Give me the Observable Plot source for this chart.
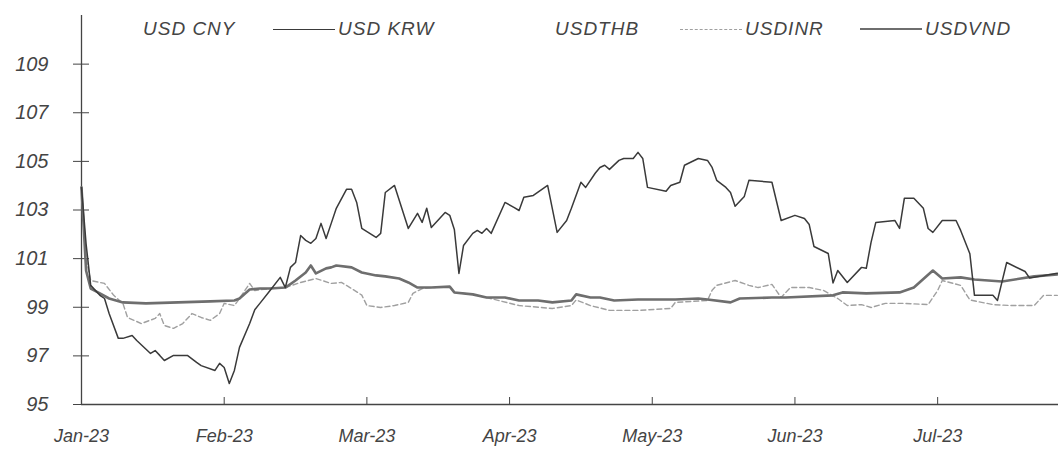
<!DOCTYPE html>
<html>
<head>
<meta charset="utf-8">
<script src="https://cdn.jsdelivr.net/npm/d3@7"></script>
<script src="https://cdn.jsdelivr.net/npm/@observablehq/plot@0.6"></script>
<style>
  html, body { margin: 0; padding: 0; background: #fff; }
  #wrap { position: relative; width: 1058px; height: 453px; overflow: hidden; }
  #legend { position: absolute; top: 0; left: 0; width: 1058px; height: 40px; font-family: "Liberation Sans Narrow", "Liberation Sans", Arial, sans-serif; font-style: italic; font-size: 19px; color: #444; letter-spacing: 1px; }
  #legend .item { position: absolute; top: 18px; display: flex; align-items: center; height: 22px; white-space: nowrap; }
  #legend .sw { display: inline-block; width: 62px; height: 0; margin-right: 3px; }
  #chart { position: absolute; top: 0; left: 0; }
  #chart svg text { font-style: italic; }
</style>
</head>
<body>
<div id="wrap">
  <div id="chart"></div>
  <div id="legend"></div>
</div>
<script>
// ---- data ----
const seriesNames = ["USD CNY", "USD KRW", "USDTHB", "USDINR", "USDVND"];
const monthLabels = ["Jan-23", "Feb-23", "Mar-23", "Apr-23", "May-23", "Jun-23", "Jul-23"];
const yTicks = [95, 97, 99, 101, 103, 105, 107, 109];

const krwDates = ["2023-01-01","2023-01-02","2023-01-03","2023-01-05","2023-01-06","2023-01-07","2023-01-09","2023-01-10","2023-01-12","2023-01-13","2023-01-16","2023-01-17","2023-01-18","2023-01-19","2023-01-21","2023-01-24","2023-01-26","2023-01-27","2023-01-30","2023-01-31",
"2023-02-01","2023-02-02","2023-02-03","2023-02-04","2023-02-06","2023-02-07","2023-02-08","2023-02-10","2023-02-12","2023-02-13","2023-02-14","2023-02-15","2023-02-16","2023-02-17","2023-02-18","2023-02-19","2023-02-20","2023-02-21","2023-02-22","2023-02-23","2023-02-25","2023-02-26","2023-02-27","2023-02-28",
"2023-03-03","2023-03-04","2023-03-05","2023-03-07","2023-03-10","2023-03-12","2023-03-13","2023-03-14","2023-03-15","2023-03-18","2023-03-19","2023-03-20","2023-03-21","2023-03-22","2023-03-24","2023-03-25","2023-03-26","2023-03-27","2023-03-28","2023-03-31",
"2023-04-02","2023-04-03","2023-04-04","2023-04-06","2023-04-09","2023-04-11","2023-04-13","2023-04-14","2023-04-16","2023-04-17","2023-04-19","2023-04-20","2023-04-21","2023-04-22","2023-04-24","2023-04-25","2023-04-27","2023-04-28","2023-04-29","2023-04-30",
"2023-05-04","2023-05-05","2023-05-07","2023-05-08","2023-05-11","2023-05-13","2023-05-14","2023-05-15","2023-05-17","2023-05-18","2023-05-19","2023-05-21","2023-05-22","2023-05-27","2023-05-29",
"2023-06-01","2023-06-03","2023-06-04","2023-06-05","2023-06-08","2023-06-09","2023-06-10","2023-06-12","2023-06-15","2023-06-16","2023-06-17","2023-06-18","2023-06-22","2023-06-23","2023-06-24","2023-06-26","2023-06-28","2023-06-29","2023-06-30",
"2023-07-02","2023-07-05","2023-07-06","2023-07-08","2023-07-09","2023-07-13","2023-07-14","2023-07-16","2023-07-20","2023-07-21","2023-07-27"];
const krwValues = [103.93,101.6,99.90,99.49,99.36,98.74,97.72,97.72,97.84,97.63,97.10,97.22,97.02,96.81,97.02,97.02,96.73,96.60,96.40,96.69,
96.52,95.86,96.40,97.35,98.33,98.90,99.16,99.69,100.23,99.81,100.64,100.84,101.95,101.75,101.63,101.83,102.45,101.83,102.45,103.07,103.85,103.85,103.31,102.24,
101.87,102.04,103.72,104.01,102.24,102.86,102.49,103.07,102.28,102.90,102.78,102.20,100.39,101.54,102.04,102.16,102.04,102.24,102.04,103.31,
103.10,102.98,103.52,103.60,104.01,102.08,102.57,103.07,104.14,103.93,104.51,104.75,104.84,104.67,105.04,105.12,105.12,105.37,105.12,103.93,
103.77,104.01,104.14,104.84,105.12,105.04,104.75,104.22,103.93,103.72,103.15,103.56,104.22,104.14,102.57,
102.78,102.65,102.40,101.50,101.21,100.00,100.51,100.02,100.64,100.60,101.67,102.49,102.57,102.24,103.48,103.48,103.07,102.24,102.08,
102.57,102.57,102.16,101.20,99.49,99.49,99.28,100.84,100.47,100.20,100.40];

const inrDates = ["2023-01-01","2023-01-02","2023-01-03","2023-01-06","2023-01-08","2023-01-10","2023-01-11","2023-01-14","2023-01-17","2023-01-18","2023-01-19","2023-01-21","2023-01-23","2023-01-25","2023-01-27","2023-01-29","2023-01-31",
"2023-02-01","2023-02-03","2023-02-04","2023-02-06","2023-02-07","2023-02-10","2023-02-13","2023-02-16","2023-02-19","2023-02-22","2023-02-24","2023-02-26","2023-02-28",
"2023-03-01","2023-03-04","2023-03-07","2023-03-10","2023-03-11","2023-03-13","2023-03-15","2023-03-19","2023-03-20","2023-03-24","2023-03-27",
"2023-04-03","2023-04-10","2023-04-14","2023-04-15","2023-04-18","2023-04-22","2023-04-28",
"2023-05-05","2023-05-06","2023-05-13","2023-05-14","2023-05-15","2023-05-19","2023-05-22","2023-05-24","2023-05-27","2023-05-29","2023-05-31",
"2023-06-04","2023-06-07","2023-06-10","2023-06-12","2023-06-15","2023-06-17","2023-06-20","2023-06-24","2023-06-29",
"2023-07-01","2023-07-02","2023-07-06","2023-07-08","2023-07-13","2023-07-17","2023-07-22","2023-07-24","2023-07-27"];
const inrValues = [103.93,101.0,100.10,99.98,99.49,99.16,98.58,98.33,98.54,98.74,98.25,98.13,98.33,98.74,98.58,98.46,98.74,
99.16,99.07,99.36,99.98,99.69,99.77,99.81,100.02,100.18,99.98,100.02,99.77,99.50,
99.07,98.99,99.07,99.20,99.57,99.77,99.81,99.85,99.61,99.53,99.40,
99.07,98.95,99.07,99.30,99.07,98.87,98.87,
98.95,99.20,99.28,99.70,99.90,100.10,99.90,99.81,99.94,99.40,99.81,
99.81,99.69,99.36,99.07,99.11,98.99,99.16,99.16,99.11,
99.69,100.10,99.90,99.30,99.11,99.07,99.07,99.49,99.49];

const vndDates = ["2023-01-01","2023-01-02","2023-01-03","2023-01-05","2023-01-07","2023-01-10","2023-01-15","2023-01-22","2023-01-29",
"2023-02-03","2023-02-04","2023-02-06","2023-02-08","2023-02-10","2023-02-13","2023-02-15","2023-02-17","2023-02-18","2023-02-19","2023-02-21","2023-02-22","2023-02-23","2023-02-26","2023-02-28",
"2023-03-03","2023-03-05","2023-03-08","2023-03-10","2023-03-12","2023-03-15","2023-03-19","2023-03-20","2023-03-24","2023-03-27","2023-03-31",
"2023-04-03","2023-04-07","2023-04-10","2023-04-14","2023-04-15","2023-04-18","2023-04-20","2023-04-23","2023-04-28",
"2023-05-06","2023-05-11","2023-05-13","2023-05-18","2023-05-20","2023-05-27","2023-05-30",
"2023-06-09","2023-06-11","2023-06-16","2023-06-23","2023-06-26","2023-06-30",
"2023-07-02","2023-07-06","2023-07-09","2023-07-15","2023-07-22","2023-07-27"];
const vndValues = [103.93,100.5,99.77,99.57,99.36,99.20,99.16,99.20,99.24,
99.28,99.36,99.73,99.77,99.77,99.81,100.10,100.43,100.72,100.39,100.60,100.64,100.72,100.64,100.43,
100.31,100.27,100.18,100.02,99.81,99.81,99.85,99.61,99.53,99.40,99.40,
99.28,99.28,99.20,99.28,99.53,99.40,99.40,99.28,99.32,
99.32,99.36,99.32,99.20,99.36,99.40,99.40,
99.49,99.61,99.57,99.61,99.81,100.51,
100.18,100.23,100.14,100.06,100.27,100.35];

// ---- helpers ----
// position along the axis in "months" (each month occupies the same width, as in the reference)
function monthPos(s) {
  const d = new Date(s + "T00:00:00Z");
  const m = d.getUTCMonth() + 12 * (d.getUTCFullYear() - 2023);
  const dim = new Date(Date.UTC(d.getUTCFullYear(), d.getUTCMonth() + 1, 0)).getUTCDate();
  return m + (d.getUTCDate() - 1) / dim;
}
function toRows(dates, values, name) {
  return dates.map((d, i) => ({date: d, pos: monthPos(d), value: values[i], series: name}));
}
const krw = toRows(krwDates, krwValues, "USD KRW");
const inr = toRows(inrDates, inrValues, "USDINR");
const vnd = toRows(vndDates, vndValues, "USDVND");

const styles = {
  "USD KRW": {stroke: "#3a3a3a", strokeWidth: 1.5, dash: null},
  "USDINR": {stroke: "#a0a0a0", strokeWidth: 1.4, dash: "5,3"},
  "USDVND": {stroke: "#6e6e6e", strokeWidth: 2.6, dash: null}
};
const axisColor = "#444";
const font = '"Liberation Sans", Arial, sans-serif';

const chart = Plot.plot({
  width: 1058,
  height: 453,
  marginLeft: 81,
  marginRight: 0,
  marginTop: 15,
  marginBottom: 49,
  style: {fontFamily: font, color: "#444", background: "transparent"},
  x: {domain: [0, 6.847], axis: null},
  y: {domain: [95, 111], axis: null},
  marks: [
    Plot.ruleX([0], {stroke: axisColor, strokeWidth: 1.3}),
    Plot.ruleY([95], {stroke: axisColor, strokeWidth: 1.3}),
    Plot.axisY({ticks: yTicks, tickSize: 16, dx: 8, tickPadding: 25, stroke: axisColor, fontSize: 20, tickFormat: d => String(d), label: null}),
    Plot.axisX({ticks: d3.range(monthLabels.length), tickSize: 7, dy: -7, tickPadding: 25, stroke: axisColor, fontSize: 18, tickFormat: i => monthLabels[i], label: null}),
    Plot.line(inr, {x: "pos", y: "value", stroke: styles["USDINR"].stroke, strokeWidth: styles["USDINR"].strokeWidth, strokeDasharray: styles["USDINR"].dash}),
    Plot.line(vnd, {x: "pos", y: "value", stroke: styles["USDVND"].stroke, strokeWidth: styles["USDVND"].strokeWidth}),
    Plot.line(krw, {x: "pos", y: "value", stroke: styles["USD KRW"].stroke, strokeWidth: styles["USD KRW"].strokeWidth})
  ]
});
document.getElementById("chart").appendChild(chart);

// ---- legend ----
const legendLeft = [143, 273, 555, 680, 860];
const legend = document.getElementById("legend");
seriesNames.forEach((name, i) => {
  const item = document.createElement("div");
  item.className = "item";
  item.style.left = legendLeft[i] + "px";
  const st = styles[name];
  if (st) {
    const sw = document.createElement("span");
    sw.className = "sw";
    sw.style.borderTop = `${st.strokeWidth}px ${st.dash ? "dashed" : "solid"} ${st.stroke}`;
    item.appendChild(sw);
  }
  const t = document.createElement("span");
  t.textContent = name;
  item.appendChild(t);
  legend.appendChild(item);
});
</script>
</body>
</html>
